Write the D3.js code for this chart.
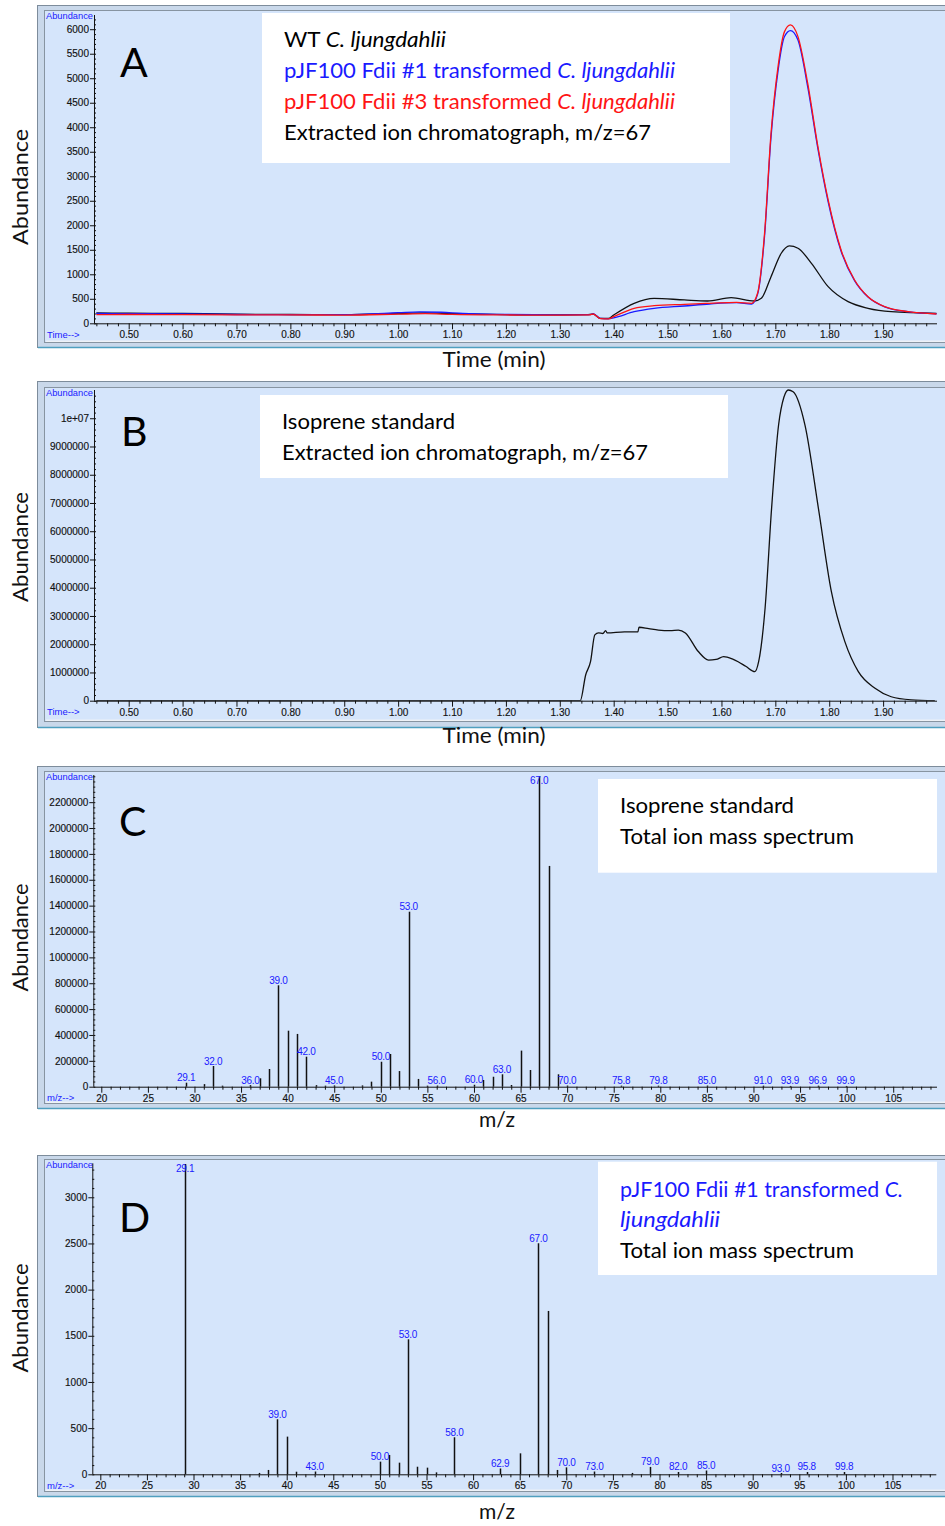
<!DOCTYPE html>
<html>
<head>
<meta charset="utf-8">
<script src="https://cdn.jsdelivr.net/npm/d3@7"></script>
<style>
  body { margin: 0; background: #fff; }
  svg { display: block; }
</style>
</head>
<body>
<svg id="fig" width="945" height="1526"></svg>
<script>
// ---- data ----

// tick values
const timeTicks = [0.5, 0.6, 0.7, 0.8, 0.9, 1.0, 1.1, 1.2, 1.3, 1.4, 1.5, 1.6, 1.7, 1.8, 1.9];
const abundTicksA = [0, 500, 1000, 1500, 2000, 2500, 3000, 3500, 4000, 4500, 5000, 5500, 6000];
const abundTicksB = [0, 1e6, 2e6, 3e6, 4e6, 5e6, 6e6, 7e6, 8e6, 9e6, 1e7];
const abundLabelsB = ['0', '1000000', '2000000', '3000000', '4000000', '5000000', '6000000', '7000000', '8000000', '9000000', '1e+07'];
const mzTicks = [20, 25, 30, 35, 40, 45, 50, 55, 60, 65, 70, 75, 80, 85, 90, 95, 100, 105];
const abundTicksC = [0, 200000, 400000, 600000, 800000, 1000000, 1200000, 1400000, 1600000, 1800000, 2000000, 2200000];
const abundTicksD = [0, 500, 1000, 1500, 2000, 2500, 3000];

// panel A: extracted ion chromatograms m/z=67, [time (min), abundance]
const wtTrace = [
  [0.44, 210], [0.50, 205], [0.60, 200], [0.70, 186], [0.80, 180], [0.90, 176], [1.00, 200],
  [1.05, 212], [1.10, 196], [1.20, 176], [1.30, 171], [1.35, 176], [1.362, 188], [1.375, 100],
  [1.39, 98], [1.40, 170], [1.438, 408], [1.475, 510], [1.531, 476], [1.574, 455], [1.618, 522],
  [1.661, 455], [1.674, 510], [1.692, 951], [1.711, 1429], [1.726, 1578], [1.742, 1531],
  [1.767, 1224], [1.798, 747], [1.835, 441], [1.872, 306], [1.915, 237], [1.999, 204]
];
const fdii1Trace = [
  [0.44, 200], [0.50, 198], [0.60, 194], [0.70, 180], [0.80, 176], [0.90, 175], [1.00, 215],
  [1.04, 235], [1.08, 225], [1.12, 200], [1.20, 180], [1.30, 170], [1.355, 175], [1.362, 195],
  [1.375, 100], [1.39, 95], [1.40, 112], [1.438, 237], [1.475, 306], [1.531, 353], [1.578, 394],
  [1.628, 420], [1.656, 394], [1.667, 590], [1.68, 1780], [1.692, 3800], [1.705, 5150],
  [1.717, 5850], [1.728, 5973], [1.742, 5780], [1.76, 4830], [1.779, 3560], [1.798, 2480],
  [1.822, 1470], [1.847, 870], [1.872, 535], [1.903, 335], [1.947, 235], [1.999, 195]
];
const fdii3Trace = [
  [0.44, 176], [0.50, 180], [0.60, 175], [0.70, 170], [0.80, 170], [0.90, 168], [1.00, 186],
  [1.05, 196], [1.10, 181], [1.20, 170], [1.30, 166], [1.355, 170], [1.362, 190], [1.375, 95],
  [1.39, 90], [1.40, 135], [1.438, 306], [1.475, 359], [1.531, 388], [1.578, 408], [1.628, 428],
  [1.656, 408], [1.667, 612], [1.68, 1837], [1.692, 3878], [1.705, 5237], [1.717, 5951],
  [1.728, 6088], [1.742, 5849], [1.76, 4898], [1.779, 3604], [1.798, 2516], [1.822, 1496],
  [1.847, 884], [1.872, 543], [1.903, 339], [1.947, 237], [1.999, 190]
];

// panel B: isoprene standard, m/z=67
const isopreneTrace = [
  [0.44, 0], [1.30, 0], [1.338, 0], [1.348, 0.91e6], [1.357, 1.38e6], [1.365, 2.33e6],
  [1.372, 2.40e6], [1.38, 2.38e6], [1.385, 2.48e6], [1.388, 2.40e6], [1.42, 2.44e6],
  [1.445, 2.44e6], [1.447, 2.60e6], [1.465, 2.55e6], [1.483, 2.50e6], [1.505, 2.48e6],
  [1.52, 2.50e6], [1.533, 2.40e6], [1.557, 1.74e6], [1.576, 1.44e6], [1.59, 1.46e6],
  [1.604, 1.56e6], [1.62, 1.48e6], [1.631, 1.38e6], [1.645, 1.22e6], [1.662, 1.03e6],
  [1.669, 1.38e6], [1.681, 3.28e6], [1.693, 6.8e6], [1.706, 9.76e6], [1.716, 10.75e6],
  [1.724, 11.0e6], [1.733, 10.94e6], [1.755, 9.76e6], [1.78, 6.8e6], [1.804, 3.86e6],
  [1.829, 2.09e6], [1.854, 1.03e6], [1.885, 0.44e6], [1.915, 0.14e6], [1.952, 0.03e6], [1.996, 0]
];

// panel C: isoprene standard total ion mass spectrum
const specC_mz = [29.1, 31, 32, 33, 36, 37, 38, 39, 40, 41, 42, 43, 44, 45, 48, 49, 50, 51, 52, 53, 54, 55,
  56, 60, 61, 62, 63, 64, 65, 66, 67, 68, 69, 70, 75.8, 79.8, 85, 91, 93.9, 96.9, 99.9];
const specC_ab = [31000, 20000, 160000, 8000, 12000, 65000, 137000, 784000, 433000, 408000, 232000, 12000,
  8000, 10000, 10000, 39000, 193000, 253000, 121000, 1353000, 60000, 8000, 9000, 15000, 52000, 77000,
  96000, 13000, 279000, 129000, 2400000, 1707000, 96000, 9000, 8000, 8000, 9000, 8000, 6000, 8000, 6000];
const specC_labeled = [29.1, 32, 36, 39, 42, 45, 50, 53, 56, 60, 63, 67, 70, 75.8, 79.8, 85, 91, 93.9, 96.9, 99.9];

// panel D: pJF100 Fdii #1 transformed strain total ion mass spectrum
const specD_mz = [29.1, 37, 38, 39, 40, 41, 43, 50, 51, 52, 53, 54, 55, 56, 58, 62.9, 65, 67, 68, 69, 70,
  73, 77, 79, 82, 85, 93, 95.8, 99.8];
const specD_ab = [3360, 15, 47, 596, 408, 28, 30, 137, 209, 126, 1462, 82, 72, 21, 401, 63, 227, 2502, 1769,
  47, 75, 30, 15, 80, 25, 41, 14, 25, 25];
const specD_labeled = [29.1, 39, 43, 50, 53, 58, 62.9, 67, 70, 73, 79, 82, 85, 93, 95.8, 99.8];

// legend text
const legendA = [
  { color: '#000000', parts: [['WT ', false], ['C. ljungdahlii', true]] },
  { color: '#1a1aff', parts: [['pJF100 Fdii #1 transformed ', false], ['C. ljungdahlii', true]] },
  { color: '#ff1414', parts: [['pJF100 Fdii #3 transformed ', false], ['C. ljungdahlii', true]] },
  { color: '#000000', parts: [['Extracted ion chromatograph, m/z=67', false]] }
];
const legendB = [
  { color: '#000000', parts: [['Isoprene standard', false]] },
  { color: '#000000', parts: [['Extracted ion chromatograph, m/z=67', false]] }
];
const legendC = [
  { color: '#000000', parts: [['Isoprene standard', false]] },
  { color: '#000000', parts: [['Total ion mass spectrum', false]] }
];
const legendD = [
  { color: '#1a1aff', parts: [['pJF100 Fdii #1 transformed ', false], ['C.', true]] },
  { color: '#1a1aff', parts: [['ljungdahlii', true]] },
  { color: '#000000', parts: [['Total ion mass spectrum', false]] }
];

// ---- drawing ----
const svg = d3.select('#fig');
const BIG_FONT = 'Lato, Calibri, "Open Sans", sans-serif';
const SMALL_FONT = '"Liberation Sans", Arial, sans-serif';
const BLUE = '#1a1aff';

// Draw one instrument window: chrome, plot area, axes, labels
function drawWindow(p) {
  const g = svg.append('g');

  // outer chrome and inner plot area
  g.append('rect').attr('x', 37.5).attr('y', p.outerTop + 0.5)
    .attr('width', 915).attr('height', p.outerBottom - p.outerTop)
    .attr('fill', '#c9d8ea').attr('stroke', '#7d8c9b');
  g.append('line').attr('x1', 38).attr('x2', 945)
    .attr('y1', p.outerBottom + 0.5).attr('y2', p.outerBottom + 0.5)
    .attr('stroke', '#4f9fbf').attr('stroke-width', 1.5);
  g.append('rect').attr('x', 44.5).attr('y', p.innerTop + 0.5)
    .attr('width', 910).attr('height', p.innerBottom - p.innerTop)
    .attr('fill', '#d5e5fb').attr('stroke', '#8794a1');
  g.append('rect').attr('x', 46).attr('y', p.innerBottom - 1.5)
    .attr('width', 900).attr('height', 1.5).attr('fill', '#eef2f7');

  const x = p.x, y = p.y;
  const x0 = x.range()[0], x1 = x.range()[1];
  const yBase = y(0), yTop = y.range()[1];

  // y axis
  const yAxis = g.append('g').attr('transform', `translate(${x0},0)`)
    .call(d3.axisLeft(y).tickValues(p.yTicks).tickSize(4).tickSizeOuter(0).tickPadding(1)
      .tickFormat((d, i) => p.yLabels ? p.yLabels[i] : d3.format('d')(d)));
  const yMinor = g.append('g').attr('transform', `translate(${x0},0)`)
    .call(d3.axisRight(y).tickValues(d3.range(0, y.domain()[1], p.yMinorStep)).tickSize(2).tickFormat(''));

  // x axis
  const xAxis = g.append('g').attr('transform', `translate(0,${yBase})`)
    .call(d3.axisBottom(x).tickValues(p.xTicks).tickSize(6).tickSizeOuter(0).tickPadding(2)
      .tickFormat(p.xFormat));
  const xMinor = g.append('g').attr('transform', `translate(0,${yBase})`)
    .call(d3.axisBottom(x).tickValues(p.xMinor).tickSize(3).tickFormat(''));

  [yAxis, yMinor, xAxis, xMinor].forEach(a => a.select('.domain').remove());
  g.selectAll('.tick line').attr('stroke', '#111');
  g.selectAll('.tick text').attr('fill', '#111')
    .style('font-family', SMALL_FONT).style('font-size', '10px')
    .attr('stroke', '#111').attr('stroke-width', 0.15);

  g.append('line').attr('x1', x0 + 0.5).attr('x2', x0 + 0.5).attr('y1', yTop).attr('y2', yBase)
    .attr('stroke', '#111');
  g.append('line').attr('x1', x0).attr('x2', x1).attr('y1', yBase + 0.5).attr('y2', yBase + 0.5)
    .attr('stroke', '#111');

  // small blue instrument labels
  g.append('text').attr('x', 46).attr('y', p.innerTop + 8.5).text('Abundance')
    .attr('fill', BLUE).style('font-family', SMALL_FONT).style('font-size', '9px')
    .attr('textLength', 47).attr('lengthAdjust', 'spacingAndGlyphs');
  g.append('text').attr('x', 47).attr('y', yBase + 14.5).text(p.xUnit)
    .attr('fill', BLUE).style('font-family', SMALL_FONT).style('font-size', '9.5px');

  // panel letter
  g.append('text').attr('x', p.letterX).attr('y', p.letterY).text(p.letter)
    .style('font-family', BIG_FONT).style('font-size', '41px').attr('fill', '#000');

  // big axis titles
  g.append('text').attr('transform', `translate(28,${p.yTitleY}) rotate(-90)`)
    .attr('text-anchor', 'middle').text('Abundance')
    .style('font-family', BIG_FONT).style('font-size', '21px').attr('fill', '#111')
    .attr('textLength', p.yTitleLen).attr('lengthAdjust', 'spacingAndGlyphs');
  g.append('text').attr('x', p.xTitleX).attr('y', p.xTitleY)
    .attr('text-anchor', 'middle').text(p.xTitle)
    .style('font-family', BIG_FONT).style('font-size', '21px').attr('fill', '#111')
    .attr('textLength', p.xTitleLen).attr('lengthAdjust', 'spacingAndGlyphs');

  // clip for marks
  const clipId = 'clip' + p.letter;
  svg.append('defs').append('clipPath').attr('id', clipId)
    .append('rect').attr('x', x0).attr('y', yTop - 2).attr('width', x1 - x0).attr('height', yBase - yTop + 2);
  p.clip = `url(#${clipId})`;
  return g;
}

function drawLegend(g, box, lines, baselines, widths) {
  g.append('rect').attr('x', box[0]).attr('y', box[1]).attr('width', box[2] - box[0]).attr('height', box[3] - box[1])
    .attr('fill', '#fff');
  lines.forEach((ln, i) => {
    const t = g.append('text').attr('x', box[0] + 22).attr('y', baselines[i])
      .attr('fill', ln.color).style('font-family', BIG_FONT).style('font-size', '21px')
      .attr('textLength', widths[i]).attr('lengthAdjust', 'spacingAndGlyphs');
    ln.parts.forEach(([s, it]) => t.append('tspan').text(s).style('font-style', it ? 'italic' : 'normal'));
  });
}

function drawTrace(g, p, data, color) {
  const line = d3.line().x(d => p.x(d[0])).y(d => p.y(d[1])).curve(d3.curveMonotoneX);
  g.append('path').datum(data).attr('d', line).attr('fill', 'none')
    .attr('stroke', color).attr('stroke-width', 1.3).attr('clip-path', p.clip);
}

function drawSpectrum(g, p, mz, ab, labeled) {
  const yTop = p.y.range()[1];
  const peaks = mz.map((m, i) => ({ m, a: ab[i] }));
  g.append('g').selectAll('line').data(peaks).join('line')
    .attr('x1', d => Math.round(p.x(d.m)) + 0.5).attr('x2', d => Math.round(p.x(d.m)) + 0.5)
    .attr('y1', p.y(0)).attr('y2', d => Math.max(p.y(d.a), yTop))
    .attr('stroke', '#111').attr('stroke-width', 1.5);
  g.append('g').selectAll('text').data(peaks.filter(d => labeled.includes(d.m))).join('text')
    .attr('x', d => p.x(d.m)).attr('y', d => Math.max(p.y(d.a) - 1.5, yTop + 9))
    .attr('text-anchor', 'middle').text(d => d.m.toFixed(1))
    .attr('fill', BLUE).style('font-family', SMALL_FONT).style('font-size', '10px')
    .attr('letter-spacing', '-0.3px');
}

const fmt2 = d3.format('.2f');
const timeMinor = d3.range(0.44, 2.0, 0.02).filter(t => !timeTicks.some(v => Math.abs(v - t) < 1e-6));
const mzMinor = d3.range(20, 110, 1).filter(m => m % 5 !== 0);

// Panel A
const pA = {
  letter: 'A', outerTop: 5, outerBottom: 347, innerTop: 10, innerBottom: 342,
  x: d3.scaleLinear().domain([0.4356, 2.0]).range([94, 937]),
  y: d3.scaleLinear().domain([0, 6290]).range([323.3, 15]),
  xTicks: timeTicks, xMinor: timeMinor, xFormat: fmt2, yTicks: abundTicksA, yMinorStep: 100,
  xUnit: 'Time-->', letterX: 120, letterY: 77, yTitleY: 187, yTitleLen: 116,
  xTitle: 'Time (min)', xTitleX: 494, xTitleY: 367, xTitleLen: 103
};
const gA = drawWindow(pA);
drawLegend(gA, [262, 13, 730, 163], legendA, [46.7, 77.7, 108.7, 139.7], [162, 391, 391, 367]);
drawTrace(gA, pA, wtTrace, '#111111');
drawTrace(gA, pA, fdii1Trace, '#1a1aff');
drawTrace(gA, pA, fdii3Trace, '#ff1414');

// Panel B
const pB = {
  letter: 'B', outerTop: 381, outerBottom: 727, innerTop: 387, innerBottom: 721,
  x: d3.scaleLinear().domain([0.4356, 2.0]).range([94, 937]),
  y: d3.scaleLinear().domain([0, 1.1e7]).range([700.7, 390]),
  xTicks: timeTicks, xMinor: timeMinor, xFormat: fmt2, yTicks: abundTicksB, yLabels: abundLabelsB,
  yMinorStep: 200000,
  xUnit: 'Time-->', letterX: 121, letterY: 445.7, yTitleY: 547, yTitleLen: 110,
  xTitle: 'Time (min)', xTitleX: 494, xTitleY: 743, xTitleLen: 103
};
const gB = drawWindow(pB);
drawLegend(gB, [260, 395, 728, 478], legendB, [429, 460], [173, 366]);
drawTrace(gB, pB, isopreneTrace, '#111111');

// Panel C
const pC = {
  letter: 'C', outerTop: 766, outerBottom: 1108, innerTop: 771, innerBottom: 1103,
  x: d3.scaleLinear().domain([19.14, 109.7]).range([93.3, 937]),
  y: d3.scaleLinear().domain([0, 2.41e6]).range([1086.7, 775]),
  xTicks: mzTicks, xMinor: mzMinor, xFormat: d3.format('d'), yTicks: abundTicksC, yMinorStep: 40000,
  xUnit: 'm/z-->', letterX: 119, letterY: 836, yTitleY: 937.5, yTitleLen: 108,
  xTitle: 'm/z', xTitleX: 497, xTitleY: 1127, xTitleLen: 36
};
const gC = drawWindow(pC);
drawLegend(gC, [598, 779, 937, 872.7], legendC, [813.3, 844], [174, 234]);
drawSpectrum(gC, pC, specC_mz, specC_ab, specC_labeled);

// Panel D
const pD = {
  letter: 'D', outerTop: 1155, outerBottom: 1496, innerTop: 1159, innerBottom: 1491,
  x: d3.scaleLinear().domain([19.14, 109.7]).range([92.3, 936.3]),
  y: d3.scaleLinear().domain([0, 3368]).range([1474.3, 1163.3]),
  xTicks: mzTicks, xMinor: mzMinor, xFormat: d3.format('d'), yTicks: abundTicksD, yMinorStep: 100,
  xUnit: 'm/z-->', letterX: 119, letterY: 1231.7, yTitleY: 1318, yTitleLen: 109,
  xTitle: 'm/z', xTitleX: 497, xTitleY: 1519, xTitleLen: 36
};
const gD = drawWindow(pD);
drawLegend(gD, [598, 1161.7, 937, 1275], legendD, [1196.7, 1226.7, 1258.3], [283, 100, 234]);
drawSpectrum(gD, pD, specD_mz, specD_ab, specD_labeled);
</script>
</body>
</html>
